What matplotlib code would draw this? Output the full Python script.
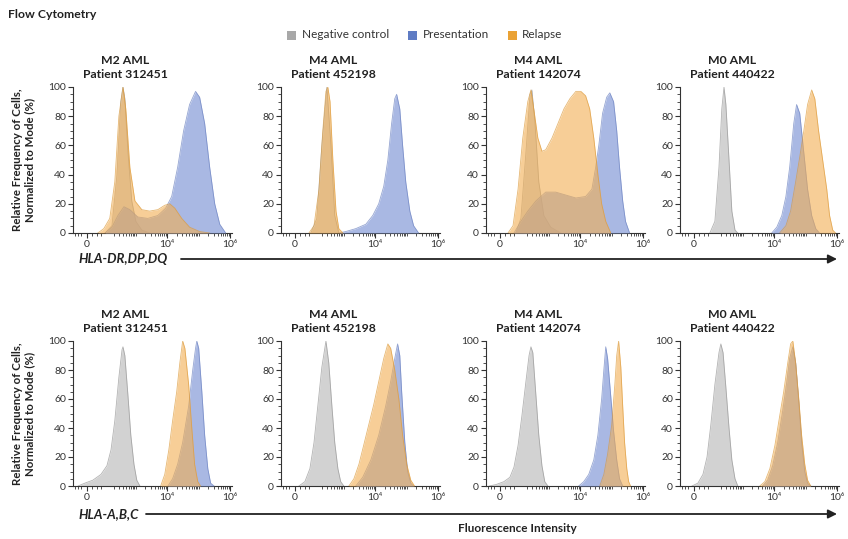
import matplotlib
matplotlib.use("Agg")
import matplotlib.pyplot as plt
from matplotlib.patches import FancyArrowPatch, Rectangle
from matplotlib.ticker import FixedLocator, MultipleLocator
import numpy as np

plt.rcParams['font.family'] = ['Lato', 'DejaVu Sans']

# x values are in display "decades" of the biexponential axis (0 -> 1.43, 10^4 -> 4, 10^6 -> 6)
# y values are % of mode

# ---- HLA-DR,DP,DQ ----
# M2 AML, patient 312451
dr_312451_neg_x = [2.02, 2.24, 2.40, 2.52, 2.59, 2.65, 2.75, 2.87, 3.00, 3.19, 3.44]
dr_312451_neg_y = [0, 5, 40, 90, 100, 92, 55, 22, 8, 2, 0]
dr_312451_pre_x = [2.02, 2.24, 2.43, 2.62, 2.81, 3.06, 3.38, 3.70, 3.95, 4.14, 4.33, 4.52, 4.71, 4.90, 5.03, 5.19, 5.35, 5.51, 5.67, 5.86]
dr_312451_pre_y = [0, 4, 12, 18, 16, 11, 10, 12, 17, 25, 45, 70, 88, 97, 93, 75, 45, 20, 6, 0]
dr_312451_rel_x = [1.79, 1.98, 2.17, 2.33, 2.46, 2.59, 2.68, 2.81, 2.97, 3.19, 3.44, 3.70, 3.92, 4.08, 4.24, 4.46, 4.71, 5.03, 5.35]
dr_312451_rel_y = [0, 3, 10, 35, 80, 100, 85, 45, 22, 16, 15, 16, 19, 20, 17, 10, 4, 1, 0]

# M4 AML, patient 452198
dr_452198_neg_x = [1.95, 2.14, 2.30, 2.46, 2.59, 2.71, 2.84]
dr_452198_neg_y = [0, 10, 60, 100, 60, 12, 0]
dr_452198_pre_x = [2.84, 3.06, 3.38, 3.70, 3.92, 4.11, 4.27, 4.40, 4.52, 4.62, 4.68, 4.78, 4.87, 4.97, 5.10, 5.22, 5.38]
dr_452198_pre_y = [0, 1, 3, 6, 12, 20, 32, 50, 75, 92, 95, 85, 60, 35, 15, 5, 0]
dr_452198_rel_x = [1.89, 2.05, 2.21, 2.33, 2.43, 2.49, 2.56, 2.65, 2.75, 2.84, 2.97]
dr_452198_rel_y = [0, 5, 30, 70, 97, 100, 90, 50, 15, 3, 0]

# M4 AML, patient 142074
dr_142074_neg_x = [1.95, 2.11, 2.27, 2.40, 2.46, 2.56, 2.68, 2.84, 3.06, 3.38]
dr_142074_neg_y = [0, 10, 55, 95, 98, 75, 35, 12, 4, 0]
dr_142074_pre_x = [1.89, 2.11, 2.33, 2.59, 2.90, 3.22, 3.54, 3.86, 4.17, 4.37, 4.49, 4.59, 4.71, 4.84, 4.94, 5.06, 5.16, 5.25, 5.35, 5.44, 5.57]
dr_142074_pre_y = [0, 8, 15, 22, 28, 28, 26, 24, 25, 30, 45, 60, 82, 93, 96, 90, 70, 45, 22, 8, 0]
dr_142074_rel_x = [1.70, 1.86, 2.02, 2.17, 2.33, 2.43, 2.52, 2.65, 2.78, 2.90, 3.10, 3.29, 3.48, 3.67, 3.86, 4.02, 4.17, 4.30, 4.43, 4.56, 4.68, 4.81, 4.97]
dr_142074_rel_y = [0, 5, 30, 65, 90, 98, 85, 65, 56, 57, 65, 75, 85, 92, 97, 97, 94, 85, 65, 40, 20, 8, 0]

# M0 AML, patient 440422
dr_440422_neg_x = [1.95, 2.11, 2.24, 2.33, 2.40, 2.46, 2.56, 2.65, 2.75, 2.84]
dr_440422_neg_y = [0, 8, 45, 85, 100, 88, 50, 15, 2, 0]
dr_440422_pre_x = [3.92, 4.08, 4.24, 4.37, 4.49, 4.62, 4.71, 4.81, 4.94, 5.06, 5.19, 5.32, 5.44]
dr_440422_pre_y = [0, 4, 12, 25, 45, 75, 88, 82, 55, 30, 12, 3, 0]
dr_440422_rel_x = [4.17, 4.37, 4.52, 4.68, 4.81, 4.94, 5.06, 5.19, 5.29, 5.41, 5.54, 5.67, 5.76, 5.86, 5.95]
dr_440422_rel_y = [0, 5, 15, 35, 52, 70, 88, 98, 92, 70, 50, 30, 12, 2, 0]

# ---- HLA-A,B,C ----
abc_312451_neg_x = [1.16, 1.38, 1.63, 1.89, 2.08, 2.21, 2.33, 2.46, 2.56, 2.59, 2.65, 2.75, 2.84, 2.94, 3.03, 3.13]
abc_312451_neg_y = [0, 2, 4, 8, 14, 25, 45, 75, 94, 96, 90, 62, 35, 15, 4, 0]
abc_312451_pre_x = [4.02, 4.17, 4.33, 4.49, 4.68, 4.81, 4.90, 4.94, 5.00, 5.10, 5.19, 5.29, 5.38, 5.49]
abc_312451_pre_y = [0, 5, 15, 30, 55, 80, 95, 100, 95, 65, 35, 12, 2, 0]
abc_312451_rel_x = [3.79, 3.92, 4.05, 4.17, 4.30, 4.40, 4.49, 4.56, 4.68, 4.78, 4.87, 4.97, 5.06]
abc_312451_rel_y = [0, 8, 25, 45, 65, 85, 100, 95, 70, 40, 15, 3, 0]

abc_452198_neg_x = [1.57, 1.76, 1.92, 2.05, 2.17, 2.30, 2.43, 2.52, 2.62, 2.71, 2.81, 2.90, 3.00]
abc_452198_neg_y = [0, 3, 12, 30, 55, 82, 100, 85, 55, 30, 12, 3, 0]
abc_452198_pre_x = [3.38, 3.60, 3.86, 4.11, 4.33, 4.49, 4.62, 4.71, 4.78, 4.84, 4.94, 5.03, 5.13, 5.22]
abc_452198_pre_y = [0, 6, 18, 35, 55, 72, 88, 98, 90, 65, 30, 10, 2, 0]
abc_452198_rel_x = [3.16, 3.32, 3.48, 3.63, 3.79, 3.95, 4.11, 4.27, 4.40, 4.49, 4.62, 4.75, 4.87, 5.00, 5.13, 5.25]
abc_452198_rel_y = [0, 5, 15, 28, 42, 56, 72, 88, 98, 95, 80, 60, 35, 15, 4, 0]

abc_142074_neg_x = [1.10, 1.32, 1.57, 1.76, 1.89, 2.02, 2.14, 2.27, 2.37, 2.43, 2.49, 2.59, 2.68, 2.78, 2.87, 2.97]
abc_142074_neg_y = [0, 1, 3, 6, 13, 28, 48, 72, 90, 96, 92, 62, 35, 14, 3, 0]
abc_142074_pre_x = [3.95, 4.11, 4.27, 4.43, 4.56, 4.68, 4.75, 4.81, 4.87, 4.97, 5.06, 5.16, 5.25, 5.35]
abc_142074_pre_y = [0, 3, 8, 18, 35, 60, 80, 96, 88, 62, 38, 18, 5, 0]
abc_142074_rel_x = [4.62, 4.75, 4.87, 5.00, 5.10, 5.16, 5.22, 5.29, 5.35, 5.41, 5.48, 5.54, 5.60]
abc_142074_rel_y = [0, 8, 22, 42, 70, 90, 100, 82, 55, 30, 12, 3, 0]

abc_440422_neg_x = [1.38, 1.57, 1.73, 1.86, 1.98, 2.11, 2.24, 2.30, 2.37, 2.46, 2.56, 2.65, 2.75, 2.84]
abc_440422_neg_y = [0, 2, 8, 20, 42, 70, 92, 98, 92, 68, 40, 18, 5, 0]
abc_440422_pre_x = [3.63, 3.79, 3.95, 4.11, 4.27, 4.40, 4.49, 4.59, 4.68, 4.78, 4.87, 4.97, 5.06, 5.16]
abc_440422_pre_y = [0, 4, 14, 30, 52, 72, 88, 96, 85, 58, 30, 10, 2, 0]
abc_440422_rel_x = [3.54, 3.70, 3.86, 4.02, 4.17, 4.30, 4.43, 4.52, 4.59, 4.68, 4.78, 4.87, 4.97, 5.06, 5.16]
abc_440422_rel_y = [0, 3, 12, 28, 48, 65, 85, 98, 100, 85, 60, 35, 15, 4, 0]

subtypes = ["M2 AML", "M4 AML", "M4 AML", "M0 AML"]
patients = ["Patient 312451", "Patient 452198", "Patient 142074", "Patient 440422"]
series_names = ["Negative control", "Presentation", "Relapse"]
marker_names = ["HLA-DR,DP,DQ", "HLA-A,B,C"]
x_tick_pos = [1.43, 4.0, 6.0]
x_tick_labels = ["0", "10⁴", "10⁶"]
y_ticks = [0, 20, 40, 60, 80, 100]

rows = [
    [(dr_312451_neg_x, dr_312451_neg_y, dr_312451_pre_x, dr_312451_pre_y, dr_312451_rel_x, dr_312451_rel_y),
     (dr_452198_neg_x, dr_452198_neg_y, dr_452198_pre_x, dr_452198_pre_y, dr_452198_rel_x, dr_452198_rel_y),
     (dr_142074_neg_x, dr_142074_neg_y, dr_142074_pre_x, dr_142074_pre_y, dr_142074_rel_x, dr_142074_rel_y),
     (dr_440422_neg_x, dr_440422_neg_y, dr_440422_pre_x, dr_440422_pre_y, dr_440422_rel_x, dr_440422_rel_y)],
    [(abc_312451_neg_x, abc_312451_neg_y, abc_312451_pre_x, abc_312451_pre_y, abc_312451_rel_x, abc_312451_rel_y),
     (abc_452198_neg_x, abc_452198_neg_y, abc_452198_pre_x, abc_452198_pre_y, abc_452198_rel_x, abc_452198_rel_y),
     (abc_142074_neg_x, abc_142074_neg_y, abc_142074_pre_x, abc_142074_pre_y, abc_142074_rel_x, abc_142074_rel_y),
     (abc_440422_neg_x, abc_440422_neg_y, abc_440422_pre_x, abc_440422_pre_y, abc_440422_rel_x, abc_440422_rel_y)],
]

# colours: fill, edge, alpha
fill_cols = ["#c4c4c4", "#859bd8", "#f2ae52"]
edge_cols = ["#939393", "#6a80bf", "#dc9a3a"]
alphas = [0.75, 0.7, 0.6]
legend_cols = ["#a8a8a8", "#5f7cc4", "#eaa235"]
text_col = "#222222"

W, H = 848, 539
fig = plt.figure(figsize=(W / 100, H / 100), dpi=100)

# panel layout in pixels
col_left = [73, 281, 486, 680]
panel_w = 159
row_top = [87, 341]
panel_h = [146, 145]

minor_x = [1.05, 1.15, 1.25, 1.6, 1.75, 1.9]
for d in (2, 3, 4, 5):
    for k in range(1, 10):
        v = d + np.log10(k)
        if 2.05 < v < 6.0:
            minor_x.append(v)

for r, row in enumerate(rows):
    for c, curves in enumerate(row):
        left = col_left[c] / W
        bottom = 1 - (row_top[r] + panel_h[r]) / H
        ax = fig.add_axes([left, bottom, panel_w / W, panel_h[r] / H])
        for s in range(3):
            xs = curves[2 * s]
            ys = curves[2 * s + 1]
            ax.fill_between(xs, ys, 0, color=fill_cols[s], alpha=alphas[s], lw=0, zorder=2 + s)
            ax.plot(xs, ys, color=edge_cols[s], lw=0.6, alpha=0.7, zorder=2 + s)
        ax.set_xlim(1.0, 6.06)
        ax.set_ylim(0, 100)
        for sp in ("top", "right"):
            ax.spines[sp].set_visible(False)
        for sp in ("left", "bottom"):
            ax.spines[sp].set_linewidth(0.8)
            ax.spines[sp].set_color("#333333")
        ax.set_xticks(x_tick_pos)
        ax.set_xticklabels(x_tick_labels)
        ax.xaxis.set_minor_locator(FixedLocator(minor_x))
        ax.set_yticks(y_ticks)
        ax.yaxis.set_minor_locator(MultipleLocator(5))
        ax.tick_params(axis="both", which="major", length=3.5, width=0.8, color="#333333",
                       labelsize=7.5, labelcolor="#333333", pad=1.5)
        ax.tick_params(axis="both", which="minor", length=2, width=0.6, color="#333333")
        ax.set_facecolor("none")
        ax.annotate(subtypes[c] + "\n" + patients[c], xy=(0.33, 1.0), xycoords="axes fraction",
                    xytext=(0, 5), textcoords="offset points", ha="center", va="bottom",
                    fontsize=8.8, fontweight="bold", color=text_col, linespacing=1.3)

# y labels
for r in range(2):
    yc = 1 - (row_top[r] + panel_h[r] / 2) / H
    fig.text(24 / W, yc, "Relative Frequency of Cells,\nNormalized to Mode (%)", rotation=90,
             ha="center", va="center", multialignment="center", fontsize=8.3,
             fontweight="bold", color=text_col, linespacing=1.15)

# title and legend
fig.text(8 / W, 1 - 15 / H, "Flow Cytometry", ha="left", va="center", fontsize=8.8,
         fontweight="bold", color=text_col)
leg_sq_x = [287, 408, 508]
leg_txt_x = [302, 423, 522]
for i in range(3):
    fig.add_artist(Rectangle((leg_sq_x[i] / W, 1 - 39.5 / H), 9 / W, 9 / H,
                             transform=fig.transFigure, facecolor=legend_cols[i],
                             edgecolor="none"))
    fig.text(leg_txt_x[i] / W, 1 - 35 / H, series_names[i], ha="left", va="center",
             fontsize=8.5, color="#333333")

# axis arrows
arrow_y = [259, 514]
arrow_x0 = [181, 146]
for r in range(2):
    y = 1 - arrow_y[r] / H
    fig.text(78 / W, y, marker_names[r], ha="left", va="center", fontsize=9.5,
             fontweight="bold", style="italic", color=text_col)
    fig.add_artist(FancyArrowPatch((arrow_x0[r] / W, y), (837 / W, y), transform=fig.transFigure,
                                   arrowstyle="-|>", mutation_scale=13, lw=1.3, color="#222222",
                                   shrinkA=0, shrinkB=0))
fig.text(517 / W, 1 - 529 / H, "Fluorescence Intensity", ha="center", va="center", fontsize=8.5,
         fontweight="bold", color=text_col)

fig.savefig("out.png", dpi=100, facecolor="white")
